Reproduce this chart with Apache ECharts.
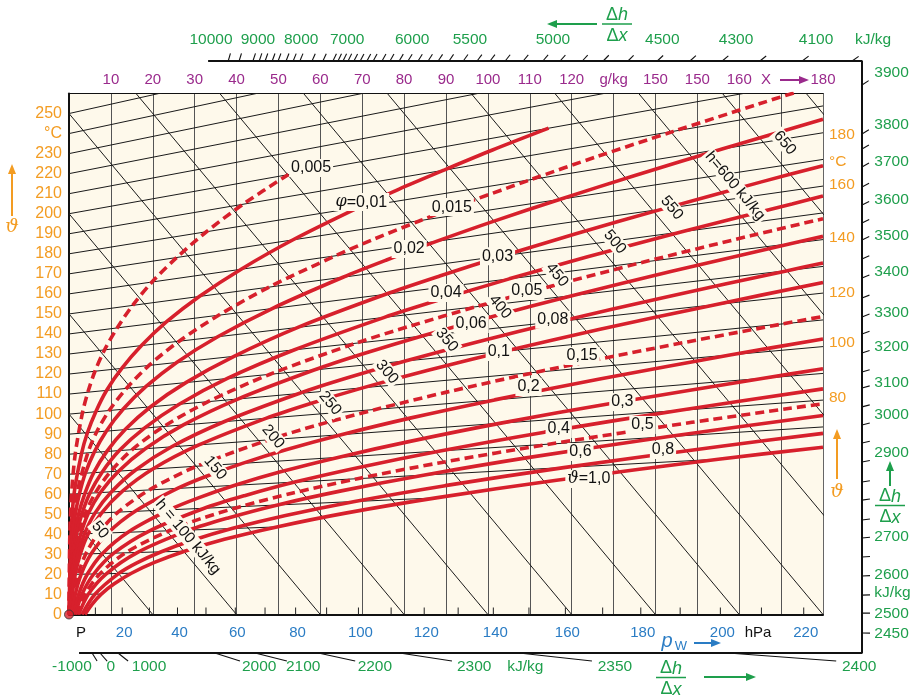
<!DOCTYPE html>
<html>
<head>
<meta charset="utf-8">
<script src="https://cdn.jsdelivr.net/npm/echarts@6/dist/echarts.min.js"></script>
<style>
  html, body { margin: 0; padding: 0; background: #fff; }
  #chart { width: 916px; height: 698px; }
</style>
</head>
<body>
<div id="chart"></div>
<script>
// h,x chart for humid air at 1000 hPa, x in g/kg, ordinate in degC scale

const FONT = '"Liberation Sans", Arial, sans-serif';
const CREAM = '#fef9eb';
const RED = '#d7202c';
const ORANGE = '#f39c22';
const PURPLE = '#9a2a8c';
const GREEN = '#1e9f4c';
const BLUE = '#2a7cc4';

// ---- axis tick labels ----
const xTickLabels = ['', '10', '20', '30', '40', '50', '60', '70', '80', '90', '100', '110', '120',
  'g/kg', '150', '150', '160', 'X', '180'];
const tempTickLabels = ['0', '10', '20', '30', '40', '50', '60', '70', '80', '90', '100', '110', '120',
  '130', '140', '150', '160', '170', '180', '190', '200', '210', '220', '230', '°C', '250', ''];
const rightTempLabels = ['80', '100', '120', '140', '160', '°C', '180'];
const rightTempAt = [108.0, 135.5, 160.4, 187.9, 214.3, 225.8, 239.2];

// partial vapour pressure scale (hPa) along the bottom, positions in g/kg
const pwLabels = ['20', '40', '60', '80', '100', '120', '140', '160', '180', '200', '220'];
const pwLabelX = [12.7, 25.9, 39.7, 54.1, 69.1, 84.8, 101.3, 118.5, 136.5, 155.5, 175.4];
const pwTickX = [6.3, 12.7, 19.2, 25.9, 32.7, 39.7, 46.8, 54.1, 61.5, 69.1, 76.9, 84.8, 92.9,
  101.3, 109.8, 118.5, 127.4, 136.5, 145.9, 155.5, 165.3, 175.4];

// isotherms: start on the left axis, end on saturation line or right edge
const isoTemps = [10, 20, 30, 40, 50, 60, 70, 80, 90, 100, 110, 120, 130, 140, 150, 160, 170,
  180, 190, 200, 210, 220, 230, 240, 250];
const isoEndX = [7.7, 14.9, 27.6, 49.6, 87.6, 155.0, 180, 180, 180, 180, 180, 180, 180, 180,
  180, 180, 180, 180, 180, 180, 180, 180, 180, 180, 180];
const isoEndY = [10.2, 20.6, 31.6, 43.7, 58.2, 77.5, 93.6, 107.0, 120.3, 133.7, 147.0, 160.4,
  173.7, 187.1, 200.4, 213.8, 227.1, 240.4, 253.8, 267.1, 280.5, 293.8, 307.2, 320.5, 333.9];

// isenthalps (kJ/kg): left axis intercept and bottom intercept (g/kg)
const enthalpies = [50, 100, 150, 200, 250, 300, 350, 400, 450, 500, 550, 600, 650, 700];
const enthalpyBottomX = [20, 40, 60, 80, 100, 120, 140, 160, 180, 200, 220, 240, 260, 280];

// relative humidity curves [x g/kg, ordinate]
const phiLevels = ['0,005', '0,01', '0,015', '0,02', '0,03', '0,04', '0,05', '0,06', '0,08',
  '0,1', '0,15', '0,2', '0,3', '0,4', '0,5', '0,6', '0,8', '1,0'];
const phiDashed = [true, false, true, false, false, false, true, false, false,
  false, true, false, false, false, true, false, false, false];

const phi0005 = [[0.0, 0], [0.2, 40.0], [0.6, 60.1], [1.5, 80.2], [3.2, 100.6], [4.5, 110.9],
  [6.2, 121.4], [8.5, 132.1], [11.5, 143.0], [15.2, 154.3], [19.8, 165.9], [25.7, 178.1],
  [32.8, 191.0], [41.6, 204.8], [52.4, 219.6]];
const phi001 = [[0.0, 0], [0.5, 40.0], [1.2, 60.1], [3.0, 80.4], [4.4, 90.7], [6.4, 101.2],
  [9.0, 111.9], [12.6, 122.8], [17.3, 134.2], [23.3, 146.1], [31.1, 158.7], [41.0, 172.2],
  [53.5, 187.0], [69.3, 203.3], [78.7, 212.2], [89.3, 221.6], [101.1, 231.8], [114.5, 242.7]];
const phi0015 = [[0.1, 0], [0.2, 20.0], [0.7, 40.0], [1.9, 60.2], [4.5, 80.7], [6.6, 91.1],
  [9.6, 101.8], [13.7, 112.8], [19.1, 124.3], [26.3, 136.4], [35.7, 149.3], [47.8, 163.4],
  [63.6, 179.0], [73.0, 187.5], [83.9, 196.6], [96.1, 206.4], [110.2, 217.0], [126.0, 228.5],
  [144.3, 241.1], [165.0, 255.0], [174.1, 261.0]];
const phi002 = [[0.1, 0], [0.3, 20.0], [0.5, 30.0], [0.9, 40.1], [1.5, 50.1], [2.5, 60.3],
  [3.9, 70.5], [6.0, 80.9], [8.9, 91.5], [12.9, 102.4], [18.4, 113.8], [25.7, 125.8],
  [35.5, 138.6], [48.5, 152.7], [65.4, 168.3], [75.8, 176.9], [87.7, 186.2], [101.3, 196.2],
  [117.1, 207.1], [135.1, 219.1], [156.1, 232.4], [180, 247.1]];
const phi003 = [[0.1, 0], [0.2, 10.0], [0.4, 20.0], [0.8, 30.0], [1.4, 40.1], [2.3, 50.2],
  [3.8, 60.4], [5.9, 70.8], [9.0, 81.3], [13.4, 92.3], [19.5, 103.7], [27.9, 115.7],
  [39.4, 128.8], [54.8, 143.4], [75.6, 159.8], [88.5, 168.9], [103.6, 179.0], [121.0, 190.0],
  [141.6, 202.3], [165.3, 215.9], [180, 224.0]];
const phi004 = [[0.2, 0], [0.3, 10.0], [0.6, 20.0], [1.1, 30.0], [1.8, 40.1], [3.1, 50.3],
  [5.0, 60.6], [7.9, 71.0], [12.0, 81.8], [18.0, 93.0], [26.3, 104.9], [37.8, 117.8],
  [53.7, 132.0], [75.3, 148.3], [89.0, 157.4], [105.1, 167.5], [123.8, 178.5], [146.3, 191.0],
  [172.6, 204.9], [180, 208.8]];
const phi005 = [[0.2, 0], [0.4, 10.0], [0.7, 20.0], [1.3, 30.1], [2.3, 40.2], [3.9, 50.4],
  [6.3, 60.7], [9.9, 71.3], [15.1, 82.3], [22.6, 93.8], [33.2, 106.2], [48.0, 119.9],
  [68.5, 135.4], [81.7, 144.1], [97.2, 153.6], [115.5, 164.1], [137.2, 175.9], [162.9, 189.1],
  [180, 197.5]];
const phi006 = [[0.2, 0], [0.5, 10.0], [0.9, 20.0], [1.6, 30.1], [2.8, 40.2], [4.6, 50.4],
  [7.5, 60.9], [11.9, 71.6], [18.2, 82.7], [27.3, 94.6], [40.3, 107.5], [58.5, 122.0],
  [70.2, 130.1], [84.1, 138.9], [100.7, 148.5], [120.3, 159.2], [143.9, 171.3], [172.2, 185.0],
  [180, 188.7]];
const phi008 = [[0.3, 0], [0.6, 10.0], [1.2, 20.0], [2.1, 30.1], [3.7, 40.3], [6.2, 50.6],
  [10.1, 61.1], [15.9, 72.1], [24.5, 83.7], [37.0, 96.2], [54.9, 110.3], [66.5, 118.1],
  [80.5, 126.6], [97.2, 135.9], [117.4, 146.3], [141.8, 158.1], [171.5, 171.6], [180, 175.4]];
const phi01 = [[0.4, 0], [0.8, 10.0], [1.5, 20.1], [2.7, 30.2], [4.6, 40.3], [7.8, 50.7],
  [12.7, 61.4], [20.0, 72.6], [31.0, 84.6], [47.0, 97.9], [57.5, 105.2], [70.1, 113.1],
  [85.5, 121.8], [104.0, 131.4], [126.5, 142.2], [154.0, 154.5], [180, 165.7]];
const phi015 = [[0.6, 0], [1.1, 10.0], [2.2, 20.1], [4.0, 30.2], [7.0, 40.5], [11.7, 51.1],
  [19.2, 62.2], [30.5, 74.0], [47.6, 87.1], [59.1, 94.4], [73.2, 102.3], [90.4, 111.1],
  [111.5, 120.9], [137.6, 132.0], [170.3, 145.0], [180, 148.7]];
const phi02 = [[0.8, 0], [1.5, 10.0], [2.9, 20.1], [5.3, 30.3], [9.3, 40.7], [15.8, 51.5],
  [25.9, 62.9], [32.8, 69.0], [41.4, 75.4], [52.0, 82.3], [65.2, 89.8], [81.4, 98.0],
  [101.6, 107.1], [126.7, 117.5], [158.1, 129.6], [180, 137.5]];
const phi03 = [[1.1, 0], [2.3, 10.0], [4.4, 20.2], [8.0, 30.5], [14.1, 41.1], [23.9, 52.2],
  [30.9, 58.2], [39.6, 64.5], [50.5, 71.2], [64.2, 78.4], [81.4, 86.4], [103.1, 95.5],
  [130.7, 105.8], [165.8, 117.9], [180, 122.6]];
const phi04 = [[1.5, 0], [3.1, 10.1], [5.9, 20.2], [10.7, 30.6], [18.9, 41.4], [32.3, 53.0],
  [41.9, 59.3], [53.9, 66.1], [69.2, 73.4], [88.6, 81.6], [113.5, 91.0], [145.5, 101.8],
  [180, 112.6]];
const phi05 = [[1.9, 0], [3.8, 10.1], [7.4, 20.3], [13.5, 30.8], [23.9, 41.8], [31.3, 47.7],
  [40.9, 53.8], [53.2, 60.5], [68.9, 67.8], [89.0, 75.9], [114.9, 85.1], [148.7, 95.9],
  [180, 105.2]];
const phi06 = [[2.3, 0], [4.6, 10.1], [8.9, 20.3], [16.3, 30.9], [28.8, 42.2], [38.0, 48.2],
  [49.8, 54.7], [65.0, 61.7], [84.6, 69.5], [109.9, 78.4], [143.2, 88.8], [180, 99.3]];
const phi08 = [[3.1, 0], [6.2, 10.1], [11.9, 20.5], [16.2, 25.8], [21.9, 31.2], [29.3, 36.9],
  [39.1, 43.0], [51.7, 49.4], [68.2, 56.4], [89.8, 64.3], [118.1, 73.3], [155.7, 84.0],
  [180, 90.4]];
const phi10 = [[3.8, 0], [5.5, 5.1], [7.7, 10.2], [10.8, 15.3], [14.9, 20.6], [20.4, 26.0],
  [27.6, 31.6], [37.1, 37.5], [49.6, 43.7], [66.0, 50.6], [87.6, 58.2], [116.4, 67.0],
  [155.0, 77.5], [180, 83.5]];

const phiCurves = [phi0005, phi001, phi0015, phi002, phi003, phi004, phi005, phi006, phi008,
  phi01, phi015, phi02, phi03, phi04, phi05, phi06, phi08, phi10];

// edge scale dh/dx (kJ/kg) around the frame
const topScaleTicks = [38.0, 40.6, 43.9, 45.4, 46.8, 48.5, 49.9, 51.8, 53.5, 55.1, 58.0, 60.6,
  63.0, 64.2, 65.4, 66.6, 68.0, 69.5, 71.1, 72.6, 74.7, 76.6, 78.8, 80.9, 83.3, 85.7, 88.1,
  90.7, 94.1, 97.4, 100.5, 104.1, 108.4, 113.1, 117.2, 122.5, 127.5, 133.4, 140.4, 148.2,
  155.9, 164.9, 175.0, 186.9];
const topScaleLabels = ['10000', '9000', '8000', '7000', '6000', '5500', '5000', '4500', '4300',
  '4100', 'kJ/kg'];
const topScaleLabelX = [33.9, 45.1, 55.4, 66.4, 81.9, 95.7, 115.5, 141.6, 159.2, 178.3, 191.9];

const rightScaleTicks = [264.2, 239.8, 232.3, 223.3, 213.3, 204.3, 195.4, 186.9, 177.4, 167.9,
  157.9, 148.5, 140.0, 130.5, 121.0, 113.0, 103.6, 94.6, 85.6, 76.1, 66.1, 57.1, 47.2, 38.2,
  28.7, 19.2, 9.7, 0.7, -9.2];
const rightScaleLabels = ['3900', '3800', '3700', '3600', '3500', '3400', '3300', '3200', '3100',
  '3000', '2900', '2700', '2600', 'kJ/kg', '2500', '2450'];
const rightScaleLabelY = [270.2, 244.3, 225.8, 206.8, 188.8, 170.9, 150.4, 133.4, 115.5, 99.5,
  80.6, 38.7, 19.7, 10.7, 0.2, -9.7];

const bottomScaleLabels = ['-1000', '0', '1000', '2000', '2100', '2200', '2300', 'kJ/kg', '2350', '2400'];
const bottomScaleLabelX = [0.7, 10.0, 19.1, 45.4, 55.9, 73.0, 96.7, 108.9, 130.3, 188.6];
const bottomScaleFrom = [5.5, 7.4, 11.7, 34.8, 44.4, 59.5, 78.9, 107.4, 157.3];
const bottomScaleTo = [6.7, 9.1, 14.1, 40.8, 52.0, 68.3, 91.4, 124.8, 183.1];

// ---- layout (label anchors in chart units) ----
const frame = { top: 276.2, right: 189.26, bottom: -19.2, topStart: 33.2, bottomStart: 2.4 };
const phiLabelAt = [[57.8, 222.8], [69.8, 205.8], [91.4, 203.3], [81.2, 182.4], [102.3, 178.8],
  [90.0, 160.4], [109.3, 161.4], [96.0, 145.0], [115.5, 147.1], [102.6, 131.0], [122.5, 129.0],
  [109.7, 113.5], [132.1, 106.0], [116.9, 92.6], [136.9, 94.6], [122.1, 81.1], [141.8, 82.1],
  [124.1, 67.6]];
const enthalpyLabelAt = [[7.4, 42.2], [28.4, 38.7], [34.9, 73.1], [48.7, 88.7], [62.3, 105.5],
  [75.9, 121.0], [90.2, 137.0], [102.9, 153.5], [116.5, 169.4], [130.3, 185.9], [143.9, 202.9],
  [159.0, 213.8], [170.9, 235.3]];

function lineSeries(pts, style, grid, extra) {
  return Object.assign({
    type: 'line', xAxisIndex: grid ? 2 : 0, yAxisIndex: grid ? 2 : 0,
    data: pts, symbol: 'none', silent: true, animation: false, clip: true,
    lineStyle: style, z: 3
  }, extra || {});
}

function textSeries(items, o) {
  return {
    type: 'custom', xAxisIndex: o.grid ? 2 : 0, yAxisIndex: o.grid ? 2 : 0,
    silent: true, animation: false, clip: false, z: o.z || 20,
    data: items.map(it => [it[0], it[1]]),
    encode: { x: 0, y: 1 },
    renderItem: (params, api) => {
      const it = items[params.dataIndex];
      const p = api.coord([it[0], it[1]]);
      return {
        type: 'text', x: p[0] + (o.dx || 0), y: p[1] + (o.dy || 0), rotation: o.rotate || 0,
        style: {
          text: it[2], fill: o.color || '#111', fontSize: o.size || 15, fontFamily: FONT,
          align: o.align || 'center', verticalAlign: 'middle',
          backgroundColor: o.bg, padding: o.pad, rich: o.rich
        }
      };
    }
  };
}

const series = [];

// isotherms
isoTemps.forEach((t, i) => {
  series.push(lineSeries([[0, t], [isoEndX[i], isoEndY[i]]], { color: '#1a1a1a', width: 1 }));
});
// isenthalps
enthalpies.forEach((h, i) => {
  series.push(lineSeries([[0, h], [enthalpyBottomX[i], 0]], { color: '#1a1a1a', width: 1 }));
});
// relative humidity curves
phiCurves.forEach((pts, i) => {
  series.push(lineSeries(pts, {
    color: RED, width: 3.6, type: phiDashed[i] ? [9, 5] : 'solid', cap: 'butt'
  }, 0, { smooth: 0.3, z: 5 }));
});

// pw ticks on the bottom axis
series.push({
  type: 'custom', xAxisIndex: 0, yAxisIndex: 0, silent: true, animation: false, z: 6,
  data: pwTickX.map(x => [x, 0]), encode: { x: 0, y: 1 },
  renderItem: (params, api) => {
    const p = api.coord([api.value(0), 0]);
    return { type: 'line', shape: { x1: p[0], y1: p[1], x2: p[0], y2: p[1] - 7 },
      style: { stroke: '#222', lineWidth: 1 } };
  }
});

// frame of the edge scale
series.push(lineSeries([[frame.topStart, frame.top], [frame.right, frame.top],
  [frame.right, frame.bottom], [frame.bottomStart, frame.bottom]],
  { color: '#111', width: 2 }, 1, { clip: false }));

// edge scale ticks, pointing away from the pole P
series.push({
  type: 'custom', xAxisIndex: 2, yAxisIndex: 2, silent: true, animation: false, z: 6, clip: false,
  data: topScaleTicks.map(v => [v, frame.top]).concat(rightScaleTicks.map(v => [frame.right, v])),
  encode: { x: 0, y: 1 },
  renderItem: (params, api) => {
    const p = api.coord([api.value(0), api.value(1)]);
    const o = api.coord([0, 0]);
    const dx = p[0] - o[0], dy = p[1] - o[1];
    const L = Math.hypot(dx, dy), len = 8;
    return { type: 'line', shape: { x1: p[0], y1: p[1], x2: p[0] + dx / L * len, y2: p[1] + dy / L * len },
      style: { stroke: '#111', lineWidth: 1.1 } };
  }
});
series.push({
  type: 'custom', xAxisIndex: 2, yAxisIndex: 2, silent: true, animation: false, z: 6, clip: false,
  data: bottomScaleFrom.map((x, i) => [x, frame.bottom, bottomScaleTo[i]]),
  encode: { x: 0, y: 1 },
  renderItem: (params, api) => {
    const a = api.coord([api.value(0), frame.bottom]);
    const b = api.coord([api.value(2), frame.bottom - 4]);
    return { type: 'line', shape: { x1: a[0], y1: a[1], x2: b[0], y2: b[1] },
      style: { stroke: '#111', lineWidth: 1.1 } };
  }
});

// pole P
series.push({
  type: 'scatter', xAxisIndex: 0, yAxisIndex: 0, data: [[0, 0]], symbolSize: 9, clip: false,
  itemStyle: { color: RED, borderColor: '#333', borderWidth: 1 }, silent: true, animation: false, z: 8
});

// labels
const richPhi = { i: { fontFamily: '"DejaVu Serif", serif', fontStyle: 'italic', fontSize: 16, fill: '#111' } };
series.push(textSeries(phiLevels.map((s, i) => {
  let txt = s;
  if (i === 1) txt = '{i|φ}=' + s;
  if (i === phiLevels.length - 1) txt = '{i|ϑ}=' + s;
  return [phiLabelAt[i][0], phiLabelAt[i][1], txt];
}), { bg: CREAM, pad: [1, 2], rich: richPhi, size: 16, z: 20 }));

series.push(textSeries(enthalpies.slice(0, 13).map((h, i) => {
  let txt = String(h);
  if (h === 100) txt = 'h = 100 kJ/kg';
  if (h === 600) txt = 'h=600 kJ/kg';
  return [enthalpyLabelAt[i][0], enthalpyLabelAt[i][1], txt];
}), { bg: CREAM, pad: [0, 2], size: 15.5, rotate: -50.1 * Math.PI / 180, z: 21 }));

series.push(textSeries(rightTempLabels.map((s, i) => [180, rightTempAt[i], s]),
  { color: ORANGE, size: 15.5, align: 'left', dx: 6 }));
series.push(textSeries(pwLabels.map((s, i) => [pwLabelX[i], 0, s]),
  { color: BLUE, size: 15, dx: 2, dy: 18 }));
series.push(textSeries(topScaleLabels.map((s, i) => [topScaleLabelX[i], 286.7, s]),
  { grid: 1, color: GREEN, size: 15.5 }));
series.push(textSeries(rightScaleLabels.map((s, i) => [192.2, rightScaleLabelY[i], s]),
  { grid: 1, color: GREEN, size: 15.5, align: 'left' }));
series.push(textSeries(bottomScaleLabels.map((s, i) => [bottomScaleLabelX[i], -26.2, s]),
  { grid: 1, color: GREEN, size: 15.5 }));

// decorations: arrows and the dh/dx fractions
function arrow(x1, y1, x2, y2, color) {
  const dx = x2 - x1, dy = y2 - y1, L = Math.hypot(dx, dy);
  const ux = dx / L, uy = dy / L, hl = 10, hw = 4;
  const bx = x2 - ux * hl, by = y2 - uy * hl;
  return [
    { type: 'line', shape: { x1: x1, y1: y1, x2: bx, y2: by }, style: { stroke: color, lineWidth: 2 } },
    { type: 'polygon', shape: { points: [[x2, y2], [bx - uy * hw, by + ux * hw], [bx + uy * hw, by - ux * hw]] },
      style: { fill: color } }
  ];
}
function frac(cx, bar) {
  const rich = { n: { fontSize: 18, fontFamily: FONT, fill: GREEN },
    i: { fontSize: 18, fontFamily: FONT, fontStyle: 'italic', fill: GREEN } };
  return [
    { type: 'text', x: cx, y: bar - 9, style: { text: '{n|Δ}{i|h}', rich: rich, align: 'center', verticalAlign: 'middle' } },
    { type: 'line', shape: { x1: cx - 15, y1: bar, x2: cx + 15, y2: bar }, style: { stroke: GREEN, lineWidth: 1.5 } },
    { type: 'text', x: cx, y: bar + 12, style: { text: '{n|Δ}{i|x}', rich: rich, align: 'center', verticalAlign: 'middle' } }
  ];
}
function label(x, y, text, color, size, italic, family) {
  return { type: 'text', x: x, y: y, style: { text: text, fill: color, fontSize: size,
    fontFamily: family || FONT, fontStyle: italic ? 'italic' : 'normal', align: 'center', verticalAlign: 'middle' } };
}

const graphic = [].concat(
  arrow(597, 24, 547, 24, GREEN), frac(617, 24),
  arrow(890, 486, 890, 461, GREEN), frac(890, 505.5),
  arrow(704, 677, 756, 677, GREEN), frac(671, 677.5),
  arrow(12, 216, 12, 164, ORANGE), [label(12, 227, 'ϑ', ORANGE, 19, true, '"DejaVu Serif", serif')],
  arrow(837, 479, 837, 429, ORANGE), [label(837, 492, 'ϑ', ORANGE, 19, true, '"DejaVu Serif", serif')],
  arrow(694, 643, 721, 643, BLUE),
  [label(667, 641, 'p', BLUE, 20, true), label(681, 646, 'W', BLUE, 13, false)],
  arrow(780, 80, 809, 80, PURPLE),
  [label(758, 633, 'hPa', '#111', 15), label(81, 633, 'P', '#111', 15)]
).map(g => Object.assign({ silent: true, z: 30 }, g));

const chart = echarts.init(document.getElementById('chart'));
chart.setOption({
  animation: false,
  textStyle: { fontFamily: FONT },
  graphic: graphic,
  grid: [
    { left: 69, right: 93, top: 93.5, bottom: 83.5, show: true, backgroundColor: CREAM,
      borderWidth: 0, containLabel: false, outerBoundsMode: 'none' },
    { left: 69, right: 54, top: 61, bottom: 45, containLabel: false, outerBoundsMode: 'none' }
  ],
  xAxis: [
    { gridIndex: 0, type: 'value', min: 0, max: 180, interval: 10, position: 'bottom',
      axisLine: { show: true, onZero: false, lineStyle: { color: '#111', width: 2 } },
      axisTick: { show: false }, axisLabel: { show: false },
      splitLine: { show: true, lineStyle: { color: '#555', width: 1 } } },
    { gridIndex: 0, type: 'value', min: 0, max: 180, interval: 10, position: 'top',
      axisLine: { show: true, onZero: false, lineStyle: { color: '#111', width: 1 } },
      axisTick: { show: false }, splitLine: { show: false },
      axisLabel: { color: PURPLE, fontSize: 15, margin: 6, hideOverlap: false,
        formatter: v => {
          const s = xTickLabels[Math.round(v / 10)] || '';
          return s === 'X' ? '{x|X}' : s;
        },
        rich: { x: { color: PURPLE, fontSize: 15, padding: [0, 30, 0, 0] } } } },
    { gridIndex: 1, type: 'value', min: 0, max: frame.right, show: false }
  ],
  yAxis: [
    { gridIndex: 0, type: 'value', min: 0, max: 260, interval: 10,
      axisLine: { show: true, onZero: false, lineStyle: { color: '#111', width: 2 } },
      axisTick: { show: false }, splitLine: { show: false },
      axisLabel: { color: ORANGE, fontSize: 16, margin: 7, hideOverlap: false,
        formatter: v => tempTickLabels[Math.round(v / 10)] || '' } },
    { gridIndex: 0, type: 'value', min: 0, max: 260, interval: 10, position: 'right',
      axisLine: { show: true, onZero: false, lineStyle: { color: '#666', width: 1 } },
      axisTick: { show: false }, axisLabel: { show: false }, splitLine: { show: false } },
    { gridIndex: 1, type: 'value', min: frame.bottom, max: frame.top, show: false }
  ],
  series: series
});
</script>
</body>
</html>
